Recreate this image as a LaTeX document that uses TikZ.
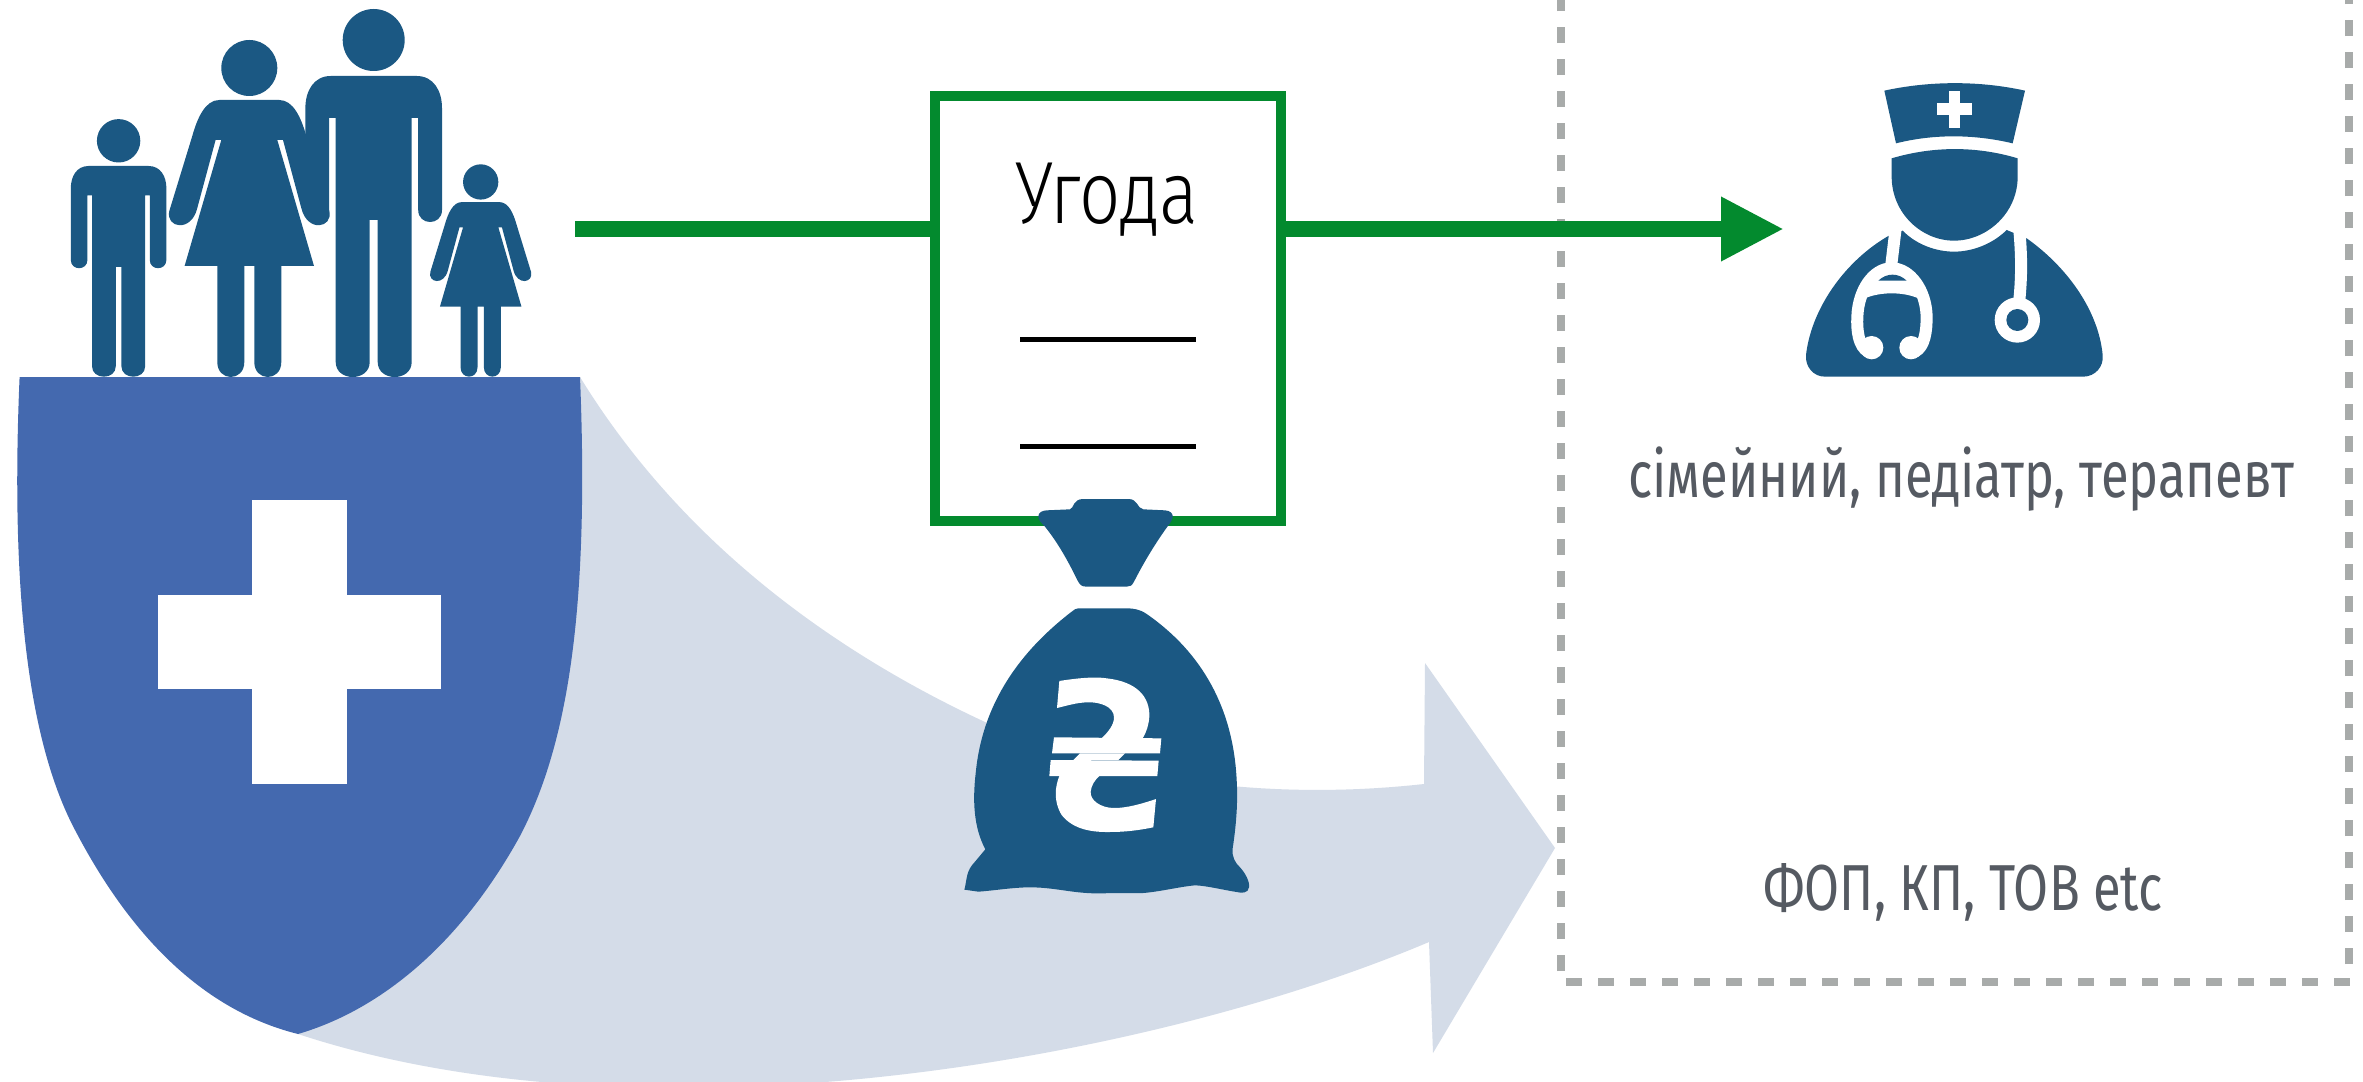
\documentclass[tikz,border=0pt]{standalone}
\usepackage{fontspec}
\setmainfont[FakeStretch=0.78]{Fira Sans}
\newfontfamily\deallabelfont[FakeStretch=0.82]{Fira Sans Light}
\usetikzlibrary{arrows.meta}
\definecolor{iconblue}{HTML}{1B5883}
\definecolor{shieldblue}{HTML}{4469AF}
\definecolor{paleblue}{HTML}{D4DCE8}
\definecolor{dealgreen}{HTML}{038A2E}
\definecolor{dashgrey}{HTML}{A8ABAA}
\definecolor{textgrey}{HTML}{555A62}
\newcommand{\famman}{%
  \fill[iconblue] (0,-336) circle [radius=31];
  \fill[iconblue] (-43,-300) -- (43,-300) .. controls (60,-300) and (68.3,-285) .. (68.3,-268)
   -- (68.3,-166) .. controls (68.3,-150) and (44.5,-150) .. (44.5,-166) -- (44.5,-258) -- (38,-258)
   -- (38,-14) .. controls (38,6) and (4,6) .. (4,-14) -- (4,-156) -- (-4,-156) -- (-4,-14)
   .. controls (-4,6) and (-38,6) .. (-38,-14) -- (-38,-258) -- (-44.5,-258) -- (-44.5,-166)
   .. controls (-44.5,-150) and (-68.3,-150) .. (-68.3,-166) -- (-68.3,-268)
   .. controls (-68.3,-285) and (-60,-300) .. (-43,-300) -- cycle;}
\newcommand{\famwoman}{%
  \fill[iconblue] (0,-308) circle [radius=28];
  \fill[iconblue] (-30,-276) -- (30,-276) .. controls (44,-276) and (52,-258) .. (57,-240)
   -- (80,-165) .. controls (84,-148) and (58,-143) .. (52,-168) -- (33.7,-236) -- (28,-236)
   -- (64.7,-110) -- (32,-110) -- (32,-14) .. controls (32,6) and (5,6) .. (5,-14) -- (5,-110)
   -- (-5,-110) -- (-5,-14) .. controls (-5,6) and (-32,6) .. (-32,-14) -- (-32,-110)
   -- (-64.7,-110) -- (-28,-236) -- (-33.7,-236) -- (-52,-168)
   .. controls (-58,-143) and (-84,-148) .. (-80,-165) -- (-57,-240)
   .. controls (-52,-258) and (-44,-276) .. (-30,-276) -- cycle;}
\tikzset{
  dealline/.style={draw=dealgreen,line width=4.8pt},
  dealtip/.style={-{Triangle[length=18.9pt,width=18pt]}},
  dealbox/.style={draw=dealgreen,line width=3.1pt,fill=white,minimum width=103.8pt,minimum height=127.5pt,inner sep=0pt},
  rule/.style={draw=black,line width=1.6pt},
  dashrun/.style={draw=dashgrey,line width=2.4pt,dash pattern=on 4.8pt off 4.8pt},
  greytext/.style={text=textgrey,anchor=base,inner sep=0pt,font=\fontsize{19.5}{22}\selectfont},
  iconpart/.style={fill=iconblue},
  iconcut/.style={fill=white},
}
\begin{document}
\begin{tikzpicture}[x=0.3pt,y=-0.3pt]
\useasboundingbox (0,0) rectangle (2363,1082);
\clip (0,0) rectangle (2363,1082);
\fill[white] (0,0) rectangle (2363,1082);
% big arrow
\fill[paleblue] (580,377) .. controls (680,540) and (830,650) .. (985,722)
  .. controls (1120,785) and (1280,800) .. (1424,784) -- (1425,663) -- (1555,848)
  -- (1433,1053) -- (1429,942) .. controls (1150,1060) and (650,1150) .. (298,1034) -- cycle;
% shield
\fill[shieldblue] (19.6,377) -- (580,377) .. controls (590,620) and (565,750) .. (520,836)
  .. controls (460,945) and (380,1010) .. (298,1034) .. controls (210,1012) and (135,945) .. (75,830)
  .. controls (30,745) and (10,600) .. (19.6,377) -- cycle;
\fill[white] (252,500) rectangle (347,784);
\fill[white] (158,595) rectangle (441,689);
% family
\begin{scope}[shift={(118.6,376)},scale=0.7]\famman\end{scope}
\begin{scope}[shift={(249.3,376)}]\famwoman\end{scope}
\begin{scope}[shift={(373.7,376)}]\famman\end{scope}
\begin{scope}[shift={(480.7,376)},scale=0.63]\famwoman\end{scope}
% dashed frame
\draw[dashrun] (1561,971) -- (1561,-10);
\draw[dashrun] (2349,964) -- (2349,-10);
\draw[dashrun] (1566,982) -- (2363,982);
% agreement
\coordinate (famend) at (575,229);
\coordinate (docin) at (1784,229);
\node[dealbox] (box) at (1108,308.5) {};
\draw[dealline] (famend) -- (box.west |- famend);
\draw[dealline,dealtip] (box.east |- famend) -- (docin);
\node[anchor=base,inner sep=0pt,font=\deallabelfont\fontsize{26.5}{30}\selectfont] (deal) at (1107,224) {Угода};
\draw[rule] (1020,339.5) -- (1196,339.5);
\draw[rule] (1020,446.3) -- (1196,446.3);
% bag
\begin{scope}[shift={(930,480)},scale=0.33333]
\fill[iconpart] (325,110) .. controls (325,98) and (335,92) .. (350,91) -- (420,88)
  .. controls (432,85) and (428,57) .. (460,57) -- (595,57) .. controls (625,57) and (620,85) .. (640,88)
  -- (705,91) .. controls (720,92) and (730,100) .. (728,112) .. controls (726,125) and (715,135) .. (705,150)
  .. controls (670,200) and (640,250) .. (612,305) .. controls (606,317) and (600,320) .. (590,320)
  -- (470,320) .. controls (455,320) and (450,315) .. (443,302) .. controls (415,245) and (385,190) .. (345,140)
  .. controls (335,130) and (325,120) .. (325,110) -- cycle;
\fill[iconpart] (445,385) -- (590,385) .. controls (610,385) and (630,388) .. (650,402)
  .. controls (820,520) and (910,690) .. (920,900) .. controls (925,980) and (915,1060) .. (908,1105)
  .. controls (905,1130) and (915,1148) .. (930,1162) .. controls (945,1178) and (960,1205) .. (957,1222)
  .. controls (955,1240) and (935,1240) .. (920,1236) .. controls (880,1230) and (830,1217) .. (795,1216)
  .. controls (750,1220) and (690,1235) .. (640,1239) -- (490,1240)
  .. controls (420,1238) and (370,1222) .. (300,1222) .. controls (250,1222) and (190,1232) .. (145,1235)
  -- (103,1229) .. controls (110,1205) and (108,1180) .. (125,1157) -- (166,1108)
  .. controls (130,1040) and (128,960) .. (137,880) .. controls (155,690) and (250,530) .. (425,395)
  .. controls (432,389) and (438,385) .. (445,385) -- cycle;
\fill[iconcut] (388,603) .. controls (450,593) and (500,590) .. (530,595) .. controls (620,605) and (660,650) .. (658,710)
  .. controls (656,735) and (650,755) .. (638,775) -- (515,775) .. controls (535,755) and (552,735) .. (552,712)
  .. controls (552,680) and (510,665) .. (470,667) .. controls (440,668) and (410,677) .. (381,684) -- cycle;
\fill[iconcut] (372,772) -- (694,775) -- (690,820) -- (366,820) -- cycle;
\fill[iconcut] (450,820) -- (430,840) -- (565,840) -- (585,820) -- cycle;
\fill[iconcut] (362,840) -- (686,842) -- (682,888) -- (358,888) -- cycle;
\fill[iconcut] (388,888) .. controls (375,920) and (370,965) .. (395,1005) .. controls (430,1050) and (490,1057) .. (540,1056)
  .. controls (590,1056) and (630,1050) .. (670,1042) -- (678,957) .. controls (640,970) and (590,985) .. (550,984)
  .. controls (510,983) and (480,960) .. (482,935) .. controls (484,915) and (495,900) .. (508,888) -- cycle;
\end{scope}
% doctor
\begin{scope}[shift={(1750,50)},scale=0.33333]
\fill[iconpart] (403,122) .. controls (540,92) and (690,92) .. (825,122) -- (788,280)
  .. controls (670,252) and (550,252) .. (438,280) -- cycle;
\fill[iconcut] (598,122) rectangle (630,233);
\fill[iconcut] (560,160) rectangle (667,195);
\fill[iconpart] (425,325) .. controls (550,288) and (680,288) .. (803,325) -- (803,380)
  .. controls (803,490) and (710,572) .. (612,572) .. controls (515,572) and (425,490) .. (425,380) -- cycle;
\fill[iconpart] (415,558) -- (458,542) .. controls (500,585) and (560,605) .. (612,605)
  .. controls (670,605) and (730,580) .. (770,540) -- (830,565)
  .. controls (950,650) and (1045,780) .. (1058,915) .. controls (1062,950) and (1035,980) .. (1000,980)
  -- (225,980) .. controls (190,980) and (165,950) .. (168,915) .. controls (185,770) and (290,630) .. (415,558) -- cycle;
\draw[white,line width=3.6pt] (437,535) -- (422,660);
\draw[white,line width=3.6pt] (808,540) .. controls (815,620) and (815,680) .. (808,750);
\fill[white] (320,800) .. controls (320,720) and (370,655) .. (425,655) .. controls (480,655) and (535,720) .. (530,800)
  -- (505,745) .. controls (460,725) and (390,725) .. (345,745) -- cycle;
\draw[white,line width=3.6pt,line cap=round] (355,905) .. controls (325,890) and (320,840) .. (322,800)
  .. controls (325,720) and (370,655) .. (425,655) .. controls (480,655) and (528,720) .. (530,800)
  .. controls (530,840) and (525,890) .. (495,905);
\fill[white] (365,893) circle [radius=35];
\fill[white] (483,893) circle [radius=35];
\fill[iconpart] (385,692) .. controls (410,668) and (445,668) .. (470,692) -- cycle;
\fill[white] (802,810) circle [radius=68];
\fill[iconpart] (802,810) circle [radius=33];
\end{scope}
% labels
\node[greytext] (role) at (1961,497) {сімейний, педіатр, терапевт};
\node[greytext] (legal) at (1963,910) {ФОП, КП, ТОВ etc};
\end{tikzpicture}
\end{document}
